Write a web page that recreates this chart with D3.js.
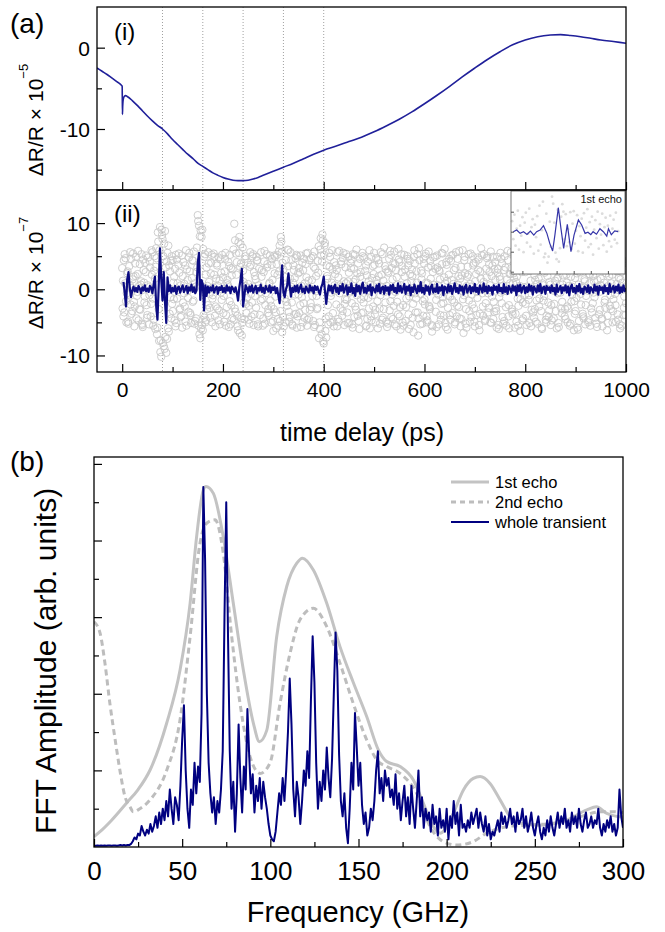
<!DOCTYPE html>
<html><head><meta charset="utf-8">
<script src="https://cdn.jsdelivr.net/npm/d3@7"></script>
<style>body{margin:0;background:#fff} svg{display:block} text{font-family:"Liberation Sans",Arial,sans-serif}</style>
</head><body>
<svg id="c" width="665" height="932"></svg>
<script>
// ---------- DATA ----------
// Panel (a)(i): slow background dR/R (x1e-5) vs time delay (ps)
const bgT = [-50,-40,-30,-20,-10,-2,0,0.5,1,2,4,7,10,20,30,40,50,60,70,80,90,100,110,120,130,140,150,160,170,180,190,200,210,220,230,240,250,260,270,280,290,300,320,340,360,380,400,425,450,475,500,525,550,575,600,625,650,675,700,725,750,775,800,825,850,870,890,910,930,950,975,1000];
const bgV = [-2.5,-2.9,-3.3,-3.75,-4.2,-4.6,-4.75,-8.2,-7.2,-6.4,-6.0,-5.9,-6.0,-6.5,-7.1,-7.75,-8.4,-9.0,-9.55,-10.0,-10.6,-11.3,-11.9,-12.5,-13.1,-13.6,-14.2,-14.6,-15.0,-15.4,-15.7,-15.95,-16.15,-16.3,-16.35,-16.35,-16.3,-16.15,-15.95,-15.7,-15.45,-15.2,-14.7,-14.2,-13.65,-13.1,-12.6,-12.1,-11.55,-11.0,-10.35,-9.6,-8.8,-7.9,-6.9,-5.85,-4.75,-3.6,-2.5,-1.45,-0.5,0.35,0.95,1.35,1.55,1.6,1.5,1.35,1.15,0.95,0.75,0.55];

// echo positions (ps)
const echoTimes = [80,160,240,320,400];

// Panel (a)(ii): raw data (x1e-7) – three interleaved sample sets, each every 2.5 ps
const rawStep = 2.5;
const rawStart1 = 0;
const rawV = [
3.2,-4.1,5.3,-1.8,2.4,-5.2,0.7,4.6,-3.3,1.9,
-2.6,4.9,-0.4,-4.7,3.8,1.2,-5.4,2.9,-1.1,5.1,
-3.9,0.3,4.2,-2.2,5.6,-4.6,1.6,6.2,-5.8,-3.0,
9.4,-10.2,7.6,-8.6,8.8,-9.6,5.5,-6.4,2.7,-4.4,
4.4,-1.5,3.1,-5.1,0.9,5.4,-2.9,-4.0,2.0,-0.6,
3.6,-5.5,1.4,4.8,-3.6,0.2,-1.9,5.7,-4.8,2.6,
11.2,9.6,-7.4,7.9,-6.2,4.9,-5.0,3.3,-2.4,1.1,
-4.3,5.2,-0.9,2.2,-5.6,3.9,0.5,-3.2,4.5,-1.6,
1.8,-4.9,5.5,-2.7,0.6,3.5,-5.3,2.1,-0.2,9.9,
-3.4,4.1,-6.2,7.9,6.8,-7.0,2.8,-4.5,5.0,-1.3,
0.8,-5.2,3.7,-2.0,5.3,-3.8,1.5,4.3,-5.6,0.1,
-1.7,2.9,-4.4,5.8,-0.6,3.3,-3.0,1.0,-5.0,4.6,
-6.3,2.4,-3.5,5.2,-5.5,6.6,7.9,-6.5,3.0,-1.4,
4.4,-2.5,5.9,-4.2,0.4,-5.3,3.6,1.7,-3.7,5.0,
-0.8,2.6,-5.7,4.0,-2.1,0.9,5.4,-4.6,1.3,-3.1,
4.7,-1.0,3.4,-5.4,2.0,-2.8,6.5,-6.0,5.1,8.3,
-8.2,7.0,-7.3,1.6,-4.1,4.9,-0.5,3.0,-5.6,2.3,
-2.3,5.6,-4.9,0.6,3.8,-3.3,1.2,-1.5,5.3,-5.1,
2.5,-0.3,4.5,-5.8,3.1,-2.6,6.0,-4.0,0.0,1.9,
-3.6,5.0,-1.2,2.8,-5.5,4.2,-2.9,0.7,-4.7,3.5,
5.5,-3.1,1.4,-5.9,3.9,-0.9,2.2,-4.3,6.3,-2.0,
0.5,-5.2,4.6,-1.8,3.2,-4.5,5.7,-0.4,1.8,-3.8,
4.1,-6.1,2.6,-2.4,5.2,-4.8,0.9,3.6,-1.1,-5.4,
3.0,-2.2,5.9,-3.5,1.0,-7.0,4.4,-0.7,2.4,-4.0,
-1.5,5.4,-5.0,3.3,-2.7,1.6,-6.4,4.8,0.2,-3.4,
5.1,-0.8,2.7,-4.6,3.8,-2.1,6.1,-5.7,1.3,-1.0,
-3.9,4.3,-1.6,0.8,-5.3,5.6,-2.5,2.0,-4.4,3.4,
-0.3,-6.6,4.9,-3.0,1.9,5.3,-4.9,0.4,-2.3,3.9,
-5.6,2.3,-1.3,4.5,-3.7,6.2,-0.6,1.1,-4.8,3.1,
5.0,-2.8,0.6,-5.1,3.6,-1.9,4.1,-3.3,2.5,-6.0,
1.5,4.6,-4.2,2.9,-0.2,-5.5,5.8,-2.4,0.9,3.2,
-3.8,1.7,5.5,-4.9,-1.4,3.7,-6.3,4.0,-2.0,0.3,
2.6,-5.4,4.8,-0.9,3.0,-3.1,5.9,-4.3,1.4,-1.7,
4.3,-2.6,0.0,-5.8,5.2,-1.0,2.8,-4.0,6.4,-3.2,
0.7,-4.7,3.5,-2.2,5.0,-5.9,1.8,4.2,-0.5,-3.6,
2.1,5.7,-4.5,1.0,-2.9,3.9,-5.2,0.4,4.7,-1.8,
-3.3,2.4,-6.1,5.3,-0.7,3.2,-4.1,1.5,-2.4,6.0,
-5.0,0.9,4.4,-3.5,2.0,-1.2,5.4,-5.7,3.0,-0.4,
1.6,-4.4,5.1,-2.0,3.7,-6.2,0.5,4.5,-3.0,2.2,
-1.5,5.6,-4.9,2.7,-0.1,-5.3,3.4,1.0,-3.9,4.0,
-2.1];
const rawStart2 = 0.8;
const rawV2 = [
-2.9,4.4,0.9,-5.0,2.7,-0.8,5.6,-3.7,1.5,-1.9,
3.9,-4.4,2.3,0.5,-3.1,5.3,-5.7,1.0,4.0,-2.4,
0.6,-5.3,3.3,5.9,-1.4,2.8,-6.0,4.7,8.6,-7.8,
-9.5,9.0,-8.1,6.9,-7.2,4.2,-5.9,3.6,-1.2,5.0,
-3.3,1.9,-5.6,4.5,-0.1,2.5,-4.2,5.1,-2.0,0.8,
-4.9,3.0,-1.3,5.5,-3.9,1.7,4.3,-5.2,0.4,6.3,
10.3,-6.8,8.9,-5.4,6.1,-4.3,2.2,-3.0,5.6,-0.7,
2.4,-5.0,0.3,4.9,-2.6,3.6,-4.7,1.3,-0.5,5.2,
-3.6,2.7,-5.5,0.9,4.1,-1.8,3.2,-4.4,6.0,-2.9,
5.4,-4.0,7.1,-6.6,3.9,-5.1,1.1,4.6,-2.2,0.2,
-4.6,3.4,-0.7,5.0,-5.4,2.0,-2.8,4.4,0.6,-3.9,
5.6,-1.5,2.6,-5.2,0.0,3.8,-4.0,5.1,-2.5,1.4,
-3.0,4.9,-5.9,2.2,5.7,-4.8,7.2,4.0,-5.6,0.7,
-1.9,6.0,-3.4,1.6,4.4,-5.5,2.9,-0.8,5.2,-4.1,
3.2,-2.4,0.5,-5.0,4.6,-3.1,1.8,5.5,-4.4,0.1,
-2.7,5.0,-5.7,3.1,-1.0,4.3,-7.4,6.0,-6.8,7.4,
5.2,-6.3,3.6,-2.4,5.5,-5.0,1.0,-3.6,4.1,-0.2,
2.9,-4.5,5.8,-2.8,0.4,4.7,-5.4,3.3,-1.6,1.2,
-5.1,4.0,-2.1,5.3,-4.2,1.5,-0.9,3.9,-6.0,2.6,
0.3,-3.5,4.8,-5.6,2.1,-1.3,5.9,-4.1,1.7,-2.6,
3.7,-5.0,0.8,4.4,-2.9,5.6,-4.6,1.3,-0.4,3.0,
-5.7,2.5,-3.2,5.2,-0.8,4.0,-5.3,2.9,-1.9,6.1,
-4.1,0.6,3.5,-5.5,1.9,-2.7,5.0,-3.8,4.3,-0.5,
2.0,-6.5,3.9,-1.4,5.3,-4.4,0.2,2.8,-5.2,4.6,
-2.3,1.0,-4.7,5.7,-3.0,3.5,-5.6,0.7,4.9,-1.6,
3.3,-5.3,1.5,-2.2,5.4,-4.0,0.9,4.1,-6.1,2.2,
-1.1,5.1,-3.6,2.9,-5.0,0.3,4.6,-2.7,1.6,-4.5,
5.9,-0.9,2.4,-5.8,3.4,-1.7,0.8,-4.2,5.0,-2.9,
1.2,-3.9,4.8,-5.4,2.7,0.0,-2.6,5.3,-4.6,1.8,
-0.6,3.8,-5.0,2.0,4.9,-3.4,1.4,-5.8,3.1,-1.2,
5.5,-2.1,0.5,-4.8,3.3,-0.3,4.4,-5.9,2.3,-3.0,
0.9,5.2,-3.7,1.9,-5.5,4.1,-1.5,2.6,-4.4,6.0,
-2.2,0.4,3.6,-5.1,1.3,5.0,-3.5,2.1,-4.9,0.8,
4.7,-1.4,3.0,-6.0,0.6,2.5,-4.6,5.4,-2.0,1.1,
-5.4,3.8,-0.2,4.9,-3.3,1.6,-5.1,2.9,5.3,-1.9,
0.2,-4.1,3.4,-2.6,5.8,-5.5,1.9,-0.8,4.1,-3.7,
2.8,-5.8,0.7,4.5,-2.3,5.1,-4.4,1.2,-1.0,3.5,
-4.7,2.2,-2.9,5.6,-0.5,3.7,-5.2,1.4,4.3,-3.1,
0.5,-5.6,4.0,-1.6,2.4,-4.0,5.5,-2.5,0.9,-5.0,
3.1,-0.7,5.2,-3.8,1.7,-5.9,2.6,4.4,-2.8,0.4];
const rawStart3 = 1.6;
const rawV3 = [
1.3,-3.5,4.7,-0.6,-4.9,3.5,-2.3,0.2,5.4,-5.6,
2.0,-1.0,5.8,-3.0,0.7,-5.2,4.5,-2.0,2.6,-4.3,
4.8,-0.9,-4.1,2.2,-5.5,5.0,3.4,-6.8,7.2,5.9,
-7.7,8.2,5.0,-9.0,3.3,-7.5,6.6,-3.7,4.3,-2.2,
1.0,-4.7,5.2,-1.4,3.7,-3.1,0.6,-5.8,4.1,-2.6,
5.9,-0.3,-3.4,2.7,-5.1,4.4,-1.7,0.9,-4.4,3.3,
-5.5,8.0,-6.0,9.0,-3.9,5.3,-4.7,0.5,3.9,-2.8,
4.0,-1.4,5.4,-4.0,1.6,-2.9,4.8,-5.3,2.5,0.0,
-1.0,4.6,-3.9,1.4,-5.7,5.2,-2.4,3.0,-4.6,7.4,
2.2,-5.6,5.5,3.4,-4.4,6.3,-2.0,0.5,-3.6,4.0,
-2.5,5.6,-4.1,0.4,2.6,-1.0,4.9,-5.3,3.1,-0.4,
1.9,-5.5,4.2,-2.4,5.3,-3.6,0.8,-1.7,3.7,-4.8,
5.1,-1.1,3.8,-4.5,2.7,-3.3,5.6,-4.2,1.9,-5.0,
0.3,3.5,-4.9,5.6,-2.0,1.0,-3.8,4.7,-5.8,2.4,
-3.6,5.1,-1.2,2.9,-4.3,3.8,-5.5,0.2,4.4,-2.1,
1.4,-4.8,5.7,-0.3,-3.0,2.5,-5.0,7.7,4.2,-7.9,
6.6,-4.4,2.0,-5.3,3.4,-1.0,5.9,-4.9,0.6,3.6,
-5.6,1.8,-0.6,4.2,-4.0,5.5,-2.2,0.9,-3.5,4.9,
-0.5,3.2,-5.3,1.1,5.2,-3.1,2.4,-4.8,4.6,-1.5,
5.5,-2.0,0.5,3.6,-4.5,1.2,-5.9,4.9,-0.9,2.3,
-3.8,4.7,-1.8,2.0,-5.2,0.4,5.3,-3.0,3.5,-4.9,
2.7,-0.2,5.8,-4.2,1.5,-2.5,3.8,-5.6,0.7,4.5,
-2.7,5.3,-5.0,0.0,3.0,-1.4,4.6,-6.0,2.3,1.2,
-4.3,4.9,-0.6,2.7,-3.5,6.2,-5.3,1.5,-1.8,3.9,
5.0,-4.1,0.9,-2.5,4.3,-5.4,2.6,-0.3,3.1,-5.7,
0.6,2.9,-3.9,5.5,-1.2,1.8,-5.1,3.7,-2.8,4.6,
-4.6,1.4,5.2,-2.0,3.2,-4.1,0.7,5.8,-5.6,2.1,
-1.5,4.4,-5.2,0.5,2.2,-3.3,5.4,-0.8,3.6,-4.9,
4.1,-0.4,2.9,-6.2,1.6,5.1,-4.0,0.3,-2.1,4.7,
-3.5,2.6,5.7,-1.1,-4.5,3.0,-2.9,4.9,-5.4,1.9,
-0.5,3.9,-5.2,5.0,-2.7,1.5,-4.1,2.3,5.6,-3.4,
2.4,-5.8,1.1,4.3,-2.5,0.5,5.1,-4.7,3.2,-0.9,
-4.0,5.5,-1.6,2.8,-5.6,3.5,0.1,-3.0,4.5,-5.2,
1.6,4.0,-3.3,0.9,-1.7,5.8,-5.0,2.0,-4.2,3.1,
-2.4,5.4,-4.4,1.3,3.7,-0.6,-5.7,4.4,-2.9,0.7,
4.9,-3.0,2.2,-5.0,0.5,4.6,-1.9,3.0,-6.2,1.7,
-1.3,4.2,-4.8,2.6,5.4,-3.7,0.3,-5.3,3.8,-0.2,
2.3,-5.5,5.0,-2.1,1.2,-4.3,3.3,5.7,-3.8,0.6,
-4.5,3.4,1.0,-2.8,5.2,-5.1,2.0,-0.9,4.8,-3.3,
5.3,-2.4,0.8,-4.6,3.6,1.5,-5.5,4.1,-1.1,-3.9];

// Panel (a)(ii): smoothed trace (x1e-7), sampled every 2.5 ps starting at 2.5 ps
const smStart = 2.5, smStep = 2.5;
const smV = [
1.1,-0.5,-2.6,1.5,2.6,0.3,-1.2,-0.2,0.4,-0.3,
0.2,-0.4,0.5,0.1,-0.6,0.3,-0.2,0.6,-0.3,0.1,
-0.4,0.5,0.2,-0.6,0.8,1.9,-2.5,-4.6,0.5,6.2,
1.5,-1.7,2.6,-2.0,-5.1,1.8,-0.3,0.6,-0.5,0.2,
-0.3,0.5,-0.7,0.2,0.4,-0.5,0.1,0.6,-0.4,0.0,
0.5,-0.6,0.3,-0.2,0.7,-0.4,0.3,-0.6,-0.2,4.0,
5.5,-1.6,1.4,0.8,-3.2,0.6,-1.0,0.4,-0.5,0.3,
-0.2,0.6,-0.5,0.1,0.4,-0.7,0.3,-0.1,0.5,-0.4,
0.2,-0.5,0.6,-0.2,0.3,-0.6,0.4,0.1,-0.4,0.3,
-0.5,-1.7,0.3,1.5,3.1,-2.6,-1.0,0.6,0.2,-0.5,
0.4,-0.3,0.6,-0.5,0.1,0.5,-0.6,0.2,-0.2,0.7,
-0.4,0.2,-0.6,0.5,0.0,-0.3,0.6,-0.5,0.3,-0.1,
0.4,-0.6,0.2,-1.0,-2.1,1.0,3.6,-0.5,-1.2,0.0,
0.6,2.4,0.5,-1.1,0.2,-0.4,0.5,-0.3,0.6,-0.5,
0.2,0.7,-0.4,0.1,-0.6,0.4,0.0,-0.5,0.6,-0.2,
0.3,-0.6,0.5,-0.1,0.4,-0.3,-0.8,0.3,0.8,1.9,
-0.3,-2.2,-0.5,0.6,-0.2,0.5,-0.6,0.3,0.7,-0.4,
0.2,-0.7,0.5,-0.2,0.8,-0.5,0.1,0.6,-0.8,0.3,
-0.4,0.9,-0.6,0.2,-1.0,0.7,-0.3,0.5,-0.7,0.4,
1.0,-0.5,0.2,-0.6,0.5,-0.2,0.7,-0.9,0.3,0.0,
-0.5,0.6,-0.3,0.8,-0.6,0.2,0.4,-0.7,0.5,-0.2,
0.3,-0.8,0.6,-0.1,0.7,-0.4,0.2,-0.6,0.9,-0.3,
0.5,-0.5,0.1,0.8,-0.7,0.4,-0.2,0.6,-0.9,0.3,
-0.4,0.7,0.0,-0.6,0.5,-0.3,1.1,-0.5,0.2,-0.7,
0.6,-0.2,0.4,-0.8,0.3,0.7,-0.5,0.1,-0.4,0.8,
-0.6,0.3,-0.2,0.6,-0.9,0.4,0.2,-0.5,0.7,-0.3,
0.5,-0.7,0.1,0.9,-0.4,0.2,-0.6,0.6,-0.2,0.4,
-0.8,0.3,0.7,-0.5,0.0,0.5,-0.6,0.3,-0.3,0.8,
-0.4,0.2,-0.7,0.6,0.1,-0.5,0.9,-0.3,0.4,-0.6,
0.5,-0.2,0.3,-0.8,0.6,-0.1,0.4,-0.5,0.7,-0.3,
0.2,-0.6,0.8,-0.4,0.3,-0.7,0.5,0.1,-0.5,0.6,
-0.2,0.4,-0.9,0.6,-0.3,0.7,-0.5,0.2,0.5,-0.6,
0.3,-0.4,0.7,-0.2,0.5,-0.8,0.4,0.0,-0.5,0.6,
-0.3,0.8,-0.6,0.2,0.4,-0.7,0.5,-0.1,0.3,-0.5,
0.6,-0.3,0.2,-0.8,0.7,-0.4,0.1,0.5,-0.6,0.3,
-0.2,0.6,-0.5,0.4,-0.9,0.3,0.7,-0.4,0.2,-0.6,
0.5,-0.3,0.8,-0.5,0.1,-0.7,0.4,0.2,-0.4,0.6,
-0.6,0.3,0.0,-0.5,0.7,-0.2,0.4,-0.8,0.5,-0.1,
0.3,-0.6,0.6,-0.3,0.2,-0.7,0.8,-0.4,0.1,0.5,
-0.5,0.4,-0.2,0.7,-0.6,0.3,-0.4,0.6,-0.3,0.2];

// Inset: 1st echo close-up
const insetT = [32,35,38,41,44,47,50,52.5,55.5,58.5,61.5,64,66.5,68.5,71.5,73.8,76.2,79.4,82.6,85.3,89.1,92,95,97.5,100,102,105,108,111,114,115.5,118,121,124];
const insetV = [0,0.33,-0.33,0,-0.53,0.13,-0.67,0,0.33,1.2,-0.33,-2.33,-3.86,-0.67,4.8,0.67,-3.33,1.47,-4.0,-0.67,2.34,1.34,-0.33,-0.1,-0.6,0,-0.5,0.6,0,-0.9,0.6,-0.6,0.15,0];
const insetRawStart = 31, insetRawStep = 1;
const insetRawV = [
2.1,-1.5,3.4,-2.8,0.6,4.2,-3.6,1.2,-0.8,2.9,
-4.1,1.8,3.8,-2.2,-0.4,4.6,-3.0,0.9,2.5,-4.4,
1.4,-1.1,3.1,-3.8,5.2,-2.6,0.3,6.0,-5.1,-4.4,
3.6,-6.2,-5.0,2.0,-3.0,7.0,5.6,1.8,-4.2,-5.5,
4.4,-6.0,-3.3,3.0,5.5,4.0,-1.5,3.5,-2.9,0.5,
-2.1,3.9,-3.5,1.6,4.1,-2.4,0.2,3.3,-3.9,1.1,
-0.9,2.6,-4.2,3.7,-1.8,0.8,4.5,-3.1,1.9,-2.5,
3.0,-4.6,0.4,2.3,-1.3,4.0,-3.4,1.5,-0.6,3.6,
-2.7,0.9,2.8,-4.0,1.2,-1.9,3.2,-3.0,0.6,2.4,
-1.6,3.8,-2.3,0.1];

// Panel (b): FFT amplitude (arb. units)
const echo1F = [0,3.4,10,18.5,25,31.8,41.2,48.8,54.5,58.2,62,63.5,67.7,73.3,79,84.7,90.4,93.8,98,103.6,109.3,115,118.2,124.4,132,139.5,147,154.7,161.3,166,173.6,181.1,186.8,192.5,196.3,199,203.8,209.5,215.1,219,224.6,230.3,236,241.6,253,268,279.5,285,290.8,296.5,300];
const echo1V = [0.27,0.4,0.7,1.15,1.5,2.01,3.23,4.62,6.36,8.1,9.32,9.41,9.23,8.1,6.36,4.62,3.23,2.75,3.05,5.49,6.8,7.41,7.54,7.23,6.36,5.23,4.3,3.4,2.53,2.23,2.1,1.75,1.14,0.53,0.36,0.45,0.88,1.49,1.79,1.84,1.66,1.23,0.79,0.62,0.57,0.7,0.97,1.05,0.88,0.8,0.78];
const echo2F = [0,3.4,6.2,9,12,14.7,17.6,20.4,22.3,26,31.8,41.2,48.8,54.5,60.1,63.9,68.6,73.3,78.1,82.8,88.5,94.2,99.8,105.5,111.2,116.8,124.4,132,139.5,147,154.7,160.4,166,173.6,183,190.6,198.1,205.7,215,222.7,234,245.4,260.5,275.7,287,294.6,300];
const echo2V = [5.88,5.59,4.8,3.75,2.8,2.0,1.31,1.05,0.92,1.0,1.23,2.0,3.32,5.49,7.93,8.45,8.54,7.67,5.49,3.75,2.36,1.92,2.19,3.75,5.06,5.93,6.23,5.75,4.8,3.75,2.79,2.27,2.1,1.92,1.4,0.53,0.14,0.05,0.14,0.36,0.53,0.57,0.62,0.79,0.92,0.92,0.9];
const wholeStart = 0, wholeStep = 1;
const wholeV = [
0.03,0.03,0.04,0.03,0.04,0.03,0.04,0.03,0.04,0.04,
0.03,0.04,0.04,0.03,0.04,0.05,0.04,0.05,0.04,0.05,
0.05,0.08,0.15,0.25,0.2,0.35,0.3,0.55,0.4,0.3,
0.45,0.35,0.6,0.4,0.55,0.8,0.5,0.9,0.6,1.0,
0.7,1.2,0.8,1.5,1.0,0.6,1.3,1.1,0.7,1.6,
2.8,3.7,2.0,1.0,0.5,1.5,1.1,2.2,1.4,2.1,
1.7,3.5,9.4,7.5,4.0,2.2,1.4,0.9,1.3,0.6,
1.2,0.9,1.5,2.5,6.0,9.0,5.5,2.5,1.0,1.7,
0.4,1.4,3.2,1.8,0.9,2.1,1.5,3.6,2.4,1.4,
1.9,0.9,1.6,1.2,1.8,1.0,1.7,1.3,1.0,0.6,
0.3,0.2,0.15,0.4,0.9,1.4,1.1,1.8,1.2,2.0,
3.0,4.4,3.2,1.5,0.8,1.7,1.3,0.6,1.2,2.0,
1.6,2.5,1.8,3.8,5.5,4.3,2.2,1.0,1.7,1.2,
2.0,1.5,2.6,1.8,1.3,2.3,4.0,5.6,4.6,2.4,
1.2,0.8,1.4,0.5,0.1,1.0,2.2,1.5,3.5,2.6,
1.6,2.2,1.1,0.6,0.9,0.3,0.5,1.0,0.7,1.2,
2.0,2.5,1.4,1.8,1.2,2.0,1.6,1.8,1.3,1.5,
1.1,1.9,1.0,1.4,0.7,1.2,1.6,0.8,1.3,0.6,
1.6,1.0,0.5,1.2,2.0,0.8,1.3,0.5,1.0,0.7,
0.9,0.4,1.1,0.6,0.8,0.3,1.0,0.5,0.7,0.4,
1.0,0.2,0.8,0.5,1.2,0.6,0.9,0.3,1.1,0.5,
0.6,0.4,0.7,0.5,0.9,0.6,0.8,1.0,0.5,0.9,
0.6,0.4,0.8,0.3,0.6,0.2,0.4,0.3,0.5,0.7,
0.4,0.9,0.6,0.8,0.5,0.7,1.0,0.6,0.8,0.4,
0.9,0.6,0.7,1.0,0.5,0.8,0.4,0.6,0.9,0.5,
0.3,0.6,0.8,0.4,0.2,0.5,0.3,0.7,0.4,0.8,
0.5,0.3,0.6,0.9,0.5,0.8,0.6,1.0,0.5,0.7,
0.4,0.9,0.6,0.8,0.5,1.0,0.6,0.4,0.7,0.9,
0.5,0.6,0.8,0.5,0.7,0.6,1.0,0.5,0.3,0.6,
0.4,0.7,0.5,0.8,0.4,0.6,0.3,0.5,1.5,0.8,
0.5];

// tick values / labels
const xTicksA = [0,200,400,600,800,1000], xMinorA = [100,300,500,700,900];
const yTicksI = [0,-10], yMinorI = [-5,-15];
const yTicksII = [10,0,-10], yMinorII = [5,-5];
const xTicksB = [0,50,100,150,200,250,300], xMinorB = [25,75,125,175,225,275];
const yTicksB = [2,4,6,8,10], yMinorB = [1,3,5,7,9];
const legendLabels = ["1st echo","2nd echo","whole transient"];

// ---------- DRAW ----------
const svg = d3.select("#c");
svg.append("rect").attr("width",665).attr("height",932).attr("fill","#fff");
const FONT = '"Liberation Sans",Arial,sans-serif';

const xA = d3.scaleLinear().domain([-50,1000]).range([97,626]);
const yI = d3.scaleLinear().domain([-17.5,5]).range([190,7]);
const yII = d3.scaleLinear().domain([-12.5,15]).range([372,190]);
const xB = d3.scaleLinear().domain([0,300]).range([94,623]);
const yB = d3.scaleLinear().domain([0,10.18]).range([847,457]);

const defs = svg.append("defs");
function clip(id,x,y,w,h){defs.append("clipPath").attr("id",id).append("rect").attr("x",x).attr("y",y).attr("width",w).attr("height",h);}
clip("cI",97,7,529,183); clip("cII",97,190,529,182); clip("cB",94,457,529,390);

// dotted echo markers
svg.append("g").selectAll("line").data(echoTimes).join("line")
  .attr("x1",d=>xA(d)).attr("x2",d=>xA(d)).attr("y1",yI.range()[1]).attr("y2",yII.range()[0])
  .attr("stroke","#a0a0a0").attr("stroke-width",1).attr("stroke-dasharray","1,2");

// (i) background curve
svg.append("path").attr("clip-path","url(#cI)")
  .datum(bgT.map((t,i)=>[t,bgV[i]]))
  .attr("d",d3.line().x(d=>xA(d[0])).y(d=>yI(d[1])).curve(d3.curveMonotoneX))
  .attr("fill","none").attr("stroke","#20209a").attr("stroke-width",1.6);

// (ii) raw circles
const gII = svg.append("g").attr("clip-path","url(#cII)");
const rawSets = [[rawStart1,rawV],[rawStart2,rawV2],[rawStart3,rawV3]];
rawSets.forEach(([s0,vals])=>{
  gII.append("g").selectAll("circle").data(vals).join("circle")
    .attr("cx",(d,i)=>xA(s0+i*rawStep)).attr("cy",d=>yII(d)).attr("r",3.7)
    .attr("fill","none").attr("stroke","#c8c8c8").attr("stroke-width",0.9);
});
gII.append("path").datum(smV)
  .attr("d",d3.line().x((d,i)=>xA(smStart+i*smStep)).y(d=>yII(d)))
  .attr("fill","none").attr("stroke","#0c0c82").attr("stroke-width",2.2).attr("stroke-linejoin","round");

// inset
const xIn = d3.scaleLinear().domain([30,130]).range([511,625]);
const yIn = d3.scaleLinear().domain([-8.46,8.14]).range([274,191]);
const gIn = svg.append("g");
gIn.append("rect").attr("x",511).attr("y",191).attr("width",114).attr("height",83).attr("fill","#fff");
gIn.selectAll("circle").data(insetRawV).join("circle")
  .attr("cx",(d,i)=>xIn(insetRawStart+i*insetRawStep)).attr("cy",d=>yIn(d)).attr("r",1.4)
  .attr("fill","#dcdcdc");
gIn.append("path").datum(insetT.map((t,i)=>[t,insetV[i]]))
  .attr("d",d3.line().x(d=>xIn(d[0])).y(d=>yIn(d[1])))
  .attr("fill","none").attr("stroke","#3535a8").attr("stroke-width",1.2);
gIn.append("rect").attr("x",511).attr("y",191).attr("width",114).attr("height",83).attr("fill","none").attr("stroke","#555").attr("stroke-width",0.8);
const inAxB = gIn.append("g").attr("transform","translate(0,274)").call(d3.axisBottom(xIn).tickValues([40,55,70,85,100,115]).tickSize(-3).tickFormat(""));
inAxB.select(".domain").remove(); inAxB.selectAll("line").attr("stroke","#555");
const inAxL = gIn.append("g").attr("transform","translate(511,0)").call(d3.axisLeft(yIn).tickValues([-8,-4,0,4]).tickSize(-3).tickFormat(""));
inAxL.select(".domain").remove(); inAxL.selectAll("line").attr("stroke","#555");
gIn.append("text").attr("x",622).attr("y",203).attr("text-anchor","end").attr("font-size",11).attr("fill","#111").text("1st echo");

// (b) curves
const gB = svg.append("g").attr("clip-path","url(#cB)");
const lineB = d3.line().x(d=>xB(d[0])).y(d=>yB(d[1])).curve(d3.curveMonotoneX);
gB.append("path").datum(echo1F.map((f,i)=>[f,echo1V[i]])).attr("d",lineB)
  .attr("fill","none").attr("stroke","#c3c3c3").attr("stroke-width",3);
gB.append("path").datum(echo2F.map((f,i)=>[f,echo2V[i]])).attr("d",lineB)
  .attr("fill","none").attr("stroke","#bdbdbd").attr("stroke-width",3).attr("stroke-dasharray","6,4");
gB.append("path").datum(wholeV)
  .attr("d",d3.line().x((d,i)=>xB(wholeStart+i*wholeStep)).y(d=>yB(d)))
  .attr("fill","none").attr("stroke","#000080").attr("stroke-width",2).attr("stroke-linejoin","round");

// frames
function frame(x0,y0,x1,y1){svg.append("rect").attr("x",x0).attr("y",y0).attr("width",x1-x0).attr("height",y1-y0).attr("fill","none").attr("stroke","#000").attr("stroke-width",1.3);}
frame(97,7,626,190); frame(97,190,626,372); frame(94,457,623,847);

// axes helpers
function styleAxis(g){g.select(".domain").remove();g.selectAll("line").attr("stroke","#000").attr("stroke-width",1.2);g.attr("font-family",FONT);}
function xAxis(scale,y,major,minor,labels,fs,ly){
  const g=svg.append("g").attr("transform",`translate(0,${y})`)
    .call(d3.axisBottom(scale).tickValues(major).tickSize(-8).tickFormat(labels?(d=>String(d)):""));
  styleAxis(g);
  g.selectAll("text").attr("y",ly).attr("dy",null).attr("font-size",fs).attr("fill","#000");
  const g2=svg.append("g").attr("transform",`translate(0,${y})`)
    .call(d3.axisBottom(scale).tickValues(minor).tickSize(-5).tickFormat(""));
  styleAxis(g2);
}
function yAxis(scale,x,major,minor,labels,fs,lx){
  const g=svg.append("g").attr("transform",`translate(${x},0)`)
    .call(d3.axisLeft(scale).tickValues(major).tickSize(-8).tickFormat(labels?(d=>String(d)):""));
  styleAxis(g);
  g.selectAll("text").attr("x",lx).attr("dy","0.35em").attr("font-size",fs).attr("fill","#000");
  const g2=svg.append("g").attr("transform",`translate(${x},0)`)
    .call(d3.axisLeft(scale).tickValues(minor).tickSize(-5).tickFormat(""));
  styleAxis(g2);
}
xAxis(xA,190,xTicksA,xMinorA,false,21,25);
xAxis(xA,372,xTicksA,xMinorA,true,21,25);
yAxis(yI,97,yTicksI,yMinorI,true,21,-7);
yAxis(yII,97,yTicksII,yMinorII,true,21,-7);
xAxis(xB,847,xTicksB,xMinorB,true,26,33);
yAxis(yB,94,yTicksB,yMinorB,false,26,-7);

// texts
function txt(x,y,s,fs,anchor){return svg.append("text").attr("x",x).attr("y",y).attr("font-size",fs).attr("text-anchor",anchor||"start").attr("fill","#000").text(s);}
txt(10,33,"(a)",28);
txt(114,40,"(i)",24);
txt(114,222,"(ii)",24);
txt(10,471,"(b)",28);
txt(362,441,"time delay (ps)",25,"middle");
txt(358,922,"Frequency (GHz)",29,"middle");
svg.append("text").attr("transform","translate(56,661) rotate(-90)").attr("text-anchor","middle")
  .attr("font-size",30).attr("fill","#000").text("FFT Amplitude (arb. units)");
function yTitle(cy,exp){
  const t=svg.append("text").attr("transform",`translate(43,${cy}) rotate(-90)`).attr("text-anchor","middle").attr("font-size",21).attr("fill","#000");
  t.append("tspan").text("ΔR/R × 10");
  t.append("tspan").attr("font-size",13).attr("dy",-15).text(exp);
}
yTitle(120,"−5");
yTitle(273,"−7");

// legend
const legStyles = [
  {stroke:"#c3c3c3",dash:null,w:3},
  {stroke:"#bdbdbd",dash:"5,4",w:3},
  {stroke:"#000080",dash:null,w:2}];
legendLabels.forEach((s,i)=>{
  const y=482+i*20;
  svg.append("line").attr("x1",451).attr("x2",489).attr("y1",y).attr("y2",y)
    .attr("stroke",legStyles[i].stroke).attr("stroke-width",legStyles[i].w).attr("stroke-dasharray",legStyles[i].dash);
  txt(495,y+6,s,16.5);
});
</script></body></html>
